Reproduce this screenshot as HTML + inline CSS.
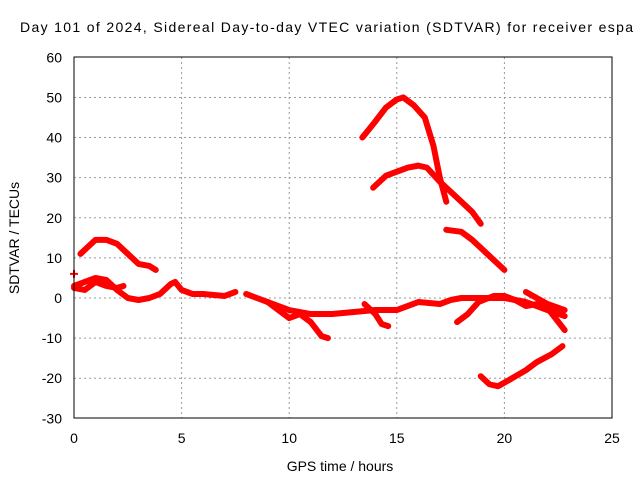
<!DOCTYPE html>
<html><head><meta charset="utf-8"><style>
body{margin:0;background:#fff;}
svg{display:block;font-family:"Liberation Sans",sans-serif;}
</style></head><body>
<svg width="640" height="480" id="svg">
<text x="20" y="32" font-size="14" textLength="613" lengthAdjust="spacing">Day 101 of 2024, Sidereal Day-to-day VTEC variation (SDTVAR) for receiver espa</text>
<text x="340" y="471" font-size="14" text-anchor="middle">GPS time / hours</text>
<text transform="translate(19,238) rotate(-90)" font-size="14" text-anchor="middle">SDTVAR / TECUs</text>
<g id="grid"></g><g id="series"></g>
<rect x="74" y="57" width="538" height="361" fill="none" stroke="#000" stroke-width="1"/>
</svg>
<script>
const xTicks=[0,5,10,15,20,25];
const yTicks=[-30,-20,-10,0,10,20,30,40,50,60];
const sA=[[0.3,11],[0.6,12.5],[1,14.5],[1.5,14.5],[2,13.5],[2.5,11],[3,8.5],[3.5,8],[3.8,7]];
const sB1=[[0,3],[0.5,4],[1,5],[1.5,4.5],[2,2],[2.5,0],[3,-0.5],[3.5,0],[4,1],[4.5,3.5],[4.7,4],[5,2],[5.5,1],[6,1],[7,0.5],[7.5,1.5]];
const sB2=[[8,1],[8.5,0],[9,-1],[9.5,-2],[10,-3],[11,-4],[12,-4],[13,-3.5],[14,-3],[15,-3],[15.5,-2],[16,-1],[17,-1.5],[17.5,-0.5],[18,0],[19,0],[20,0],[21,-1],[22,-3],[22.8,-4.5]];
const sC=[[0,2.5],[0.5,2],[1,4],[1.5,3],[2,2.5],[2.3,3]];
const sD=[[9,-1],[9.5,-3],[10,-5],[10.5,-4],[11,-6],[11.5,-9.5],[11.8,-10]];
const sE=[[13.5,-1.5],[14,-4],[14.3,-6.5],[14.6,-7]];
const sF=[[17.8,-6],[18.3,-4],[18.8,-1],[19.5,0.5],[20,0.5],[20.5,-0.5],[21,-2],[21.5,-1.5],[22,-2.5],[22.8,-8]];
const sG=[[21,1.5],[21.5,0],[22,-1.5],[22.8,-3]];
const sH=[[13.4,40],[14,44],[14.5,47.5],[15,49.5],[15.3,50],[15.8,48],[16.3,45],[16.7,38],[17,30],[17.3,24]];
const sI=[[13.9,27.5],[14.5,30.5],[15,31.5],[15.5,32.5],[16,33],[16.4,32.5],[17,29],[17.5,26.5],[18,24],[18.5,21.5],[18.9,18.5]];
const sJ=[[17.3,17],[18,16.5],[18.5,14.5],[19,12],[19.5,9.5],[20,7]];
const sK=[[18.9,-19.5],[19.3,-21.5],[19.7,-22],[20.2,-20.5],[21,-18],[21.5,-16],[22.2,-14],[22.7,-12]];
const sPt=[[0,6]];
const seriesList=[sA,sB1,sB2,sC,sD,sE,sF,sG,sH,sI,sJ,sK,sPt];
const seriesNames=['series-a','series-b1','series-b2','series-c','series-d','series-e','series-f','series-g','series-h','series-i','series-j','series-k','series-point'];
const X=h=>74+h*538/25, Y=v=>298-v*361/90;
const NS='http://www.w3.org/2000/svg';
const grid=document.getElementById('grid'), ser=document.getElementById('series');
function mk(t,a){const e=document.createElementNS(NS,t);for(const k in a)e.setAttribute(k,a[k]);return e;}
xTicks.forEach(t=>{
 if(t>0&&t<25){const l=mk('line',{x1:X(t),x2:X(t),y1:57,y2:418,stroke:'#999','stroke-dasharray':'2,3'});
 
 grid.appendChild(l);}
 const tk=mk('text',{x:X(t),y:443,'font-size':14,'text-anchor':'middle'});tk.textContent=t;
 
 grid.appendChild(tk);
});
yTicks.forEach(t=>{
 if(t>-30&&t<60){const l=mk('line',{x1:74,x2:612,y1:Y(t),y2:Y(t),stroke:'#999','stroke-dasharray':'2,3'});
 
 grid.appendChild(l);}
 const tk=mk('text',{x:62,y:Y(t)+5,'font-size':14,'text-anchor':'end'});tk.textContent=t;
 
 grid.appendChild(tk);
});
seriesList.forEach((s,i)=>{
 let p;
 if(s.length===1){p=mk('path',{d:`M${X(s[0][0])-4},${Y(s[0][1])}h8M${X(s[0][0])},${Y(s[0][1])-4}v8`,stroke:'#f00','stroke-width':2});}
 else p=mk('polyline',{points:s.map(d=>X(d[0])+','+Y(d[1])).join(' '),fill:'none',stroke:'#f00','stroke-width':6,'stroke-linejoin':'round','stroke-linecap':'round'});
 
 
 ser.appendChild(p);
});
</script>
</body></html>
